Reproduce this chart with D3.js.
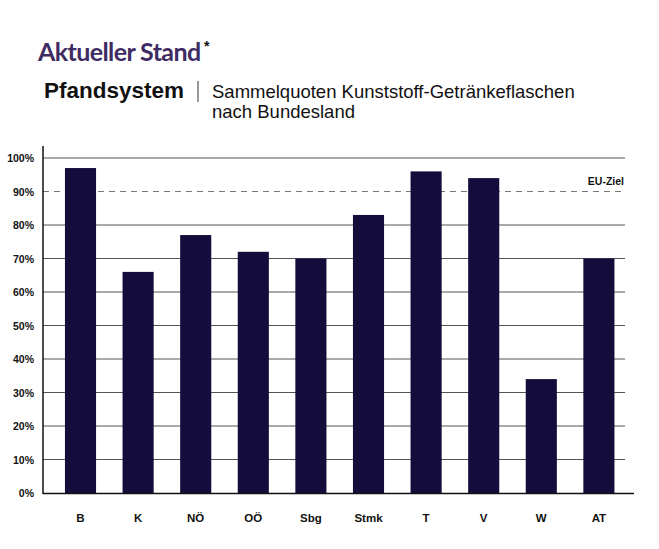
<!DOCTYPE html>
<html><head><meta charset="utf-8">
<script src="https://cdn.jsdelivr.net/npm/d3@7"></script>
<style>body{margin:0;background:#fff;font-family:"Liberation Sans",Arial,sans-serif}</style>
</head><body><div id="vis"></div>
<script>
// data
const regions = ['B','K','NÖ','OÖ','Sbg','Stmk','T','V','W','AT'];
const quotes = [97,66,77,72,70,83,96,94,34,70];
const yTicks = [0,10,20,30,40,50,60,70,80,90,100];
const euTarget = 90;

const svg = d3.select('#vis').append('svg').attr('width',659).attr('height',549);

// titles
svg.append('text').attr('x',38).attr('y',61).attr('fill','#3e2b62')
  .attr('font-family','Lato, sans-serif').attr('font-weight',700).attr('font-size',25)
  .attr('letter-spacing',-0.6).text('Aktueller Stand');
svg.append('text').attr('x',204).attr('y',51).attr('fill','#111').attr('font-weight',700).attr('font-size',14).text('*');
svg.append('text').attr('x',44).attr('y',98).attr('fill','#111').attr('font-weight',700).attr('font-size',22.5).text('Pfandsystem');
svg.append('line').attr('x1',198).attr('x2',198).attr('y1',81).attr('y2',102).attr('stroke','#333');
const sub = svg.append('text').attr('x',212).attr('y',98).attr('fill','#111').attr('font-size',18.5);
sub.append('tspan').text('Sammelquoten Kunststoff-Getränkeflaschen');
sub.append('tspan').attr('x',212).attr('dy',20).text('nach Bundesland');

// scales
const x = d3.scaleBand().domain(regions).range([51.7,627.7]).paddingInner(0.46).paddingOuter(0.23);
const y = d3.scaleLinear().domain([0,100]).range([493,158]);

// grid
svg.append('g').selectAll('line').data(yTicks.filter(d => d > 0 && d !== euTarget)).join('line')
  .attr('x1',43).attr('x2',625).attr('y1',d => y(d)).attr('y2',d => y(d))
  .attr('stroke','#555').attr('stroke-width',1);
svg.append('line').attr('x1',43).attr('x2',625).attr('y1',y(euTarget)).attr('y2',y(euTarget))
  .attr('stroke','#777').attr('stroke-dasharray','6,5');
svg.append('text').attr('x',624).attr('y',y(euTarget)-7).attr('text-anchor','end')
  .attr('font-size',10.5).attr('font-weight',700).attr('fill','#111').text('EU-Ziel');

// y labels
svg.append('g').selectAll('text').data(yTicks).join('text')
  .attr('x',34).attr('y',d => y(d)+4).attr('text-anchor','end')
  .attr('font-size',10.5).attr('font-weight',700).attr('fill','#111').text(d => d + '%');

// bars
svg.append('g').selectAll('rect').data(quotes).join('rect')
  .attr('x',(d,i) => x(regions[i])).attr('width',x.bandwidth())
  .attr('y',d => y(d)).attr('height',d => y(0)-y(d)).attr('fill','#140c3a');

// axes lines
svg.append('line').attr('x1',43).attr('x2',43).attr('y1',146).attr('y2',494).attr('stroke','#111').attr('stroke-width',1.5);
svg.append('line').attr('x1',43).attr('x2',634).attr('y1',493.5).attr('y2',493.5).attr('stroke','#111').attr('stroke-width',1.5);

// x labels
svg.append('g').selectAll('text').data(regions).join('text')
  .attr('x',d => x(d)+x.bandwidth()/2).attr('y',522).attr('text-anchor','middle')
  .attr('font-size',11.5).attr('font-weight',700).attr('fill','#111').text(d => d);
</script></body></html>
